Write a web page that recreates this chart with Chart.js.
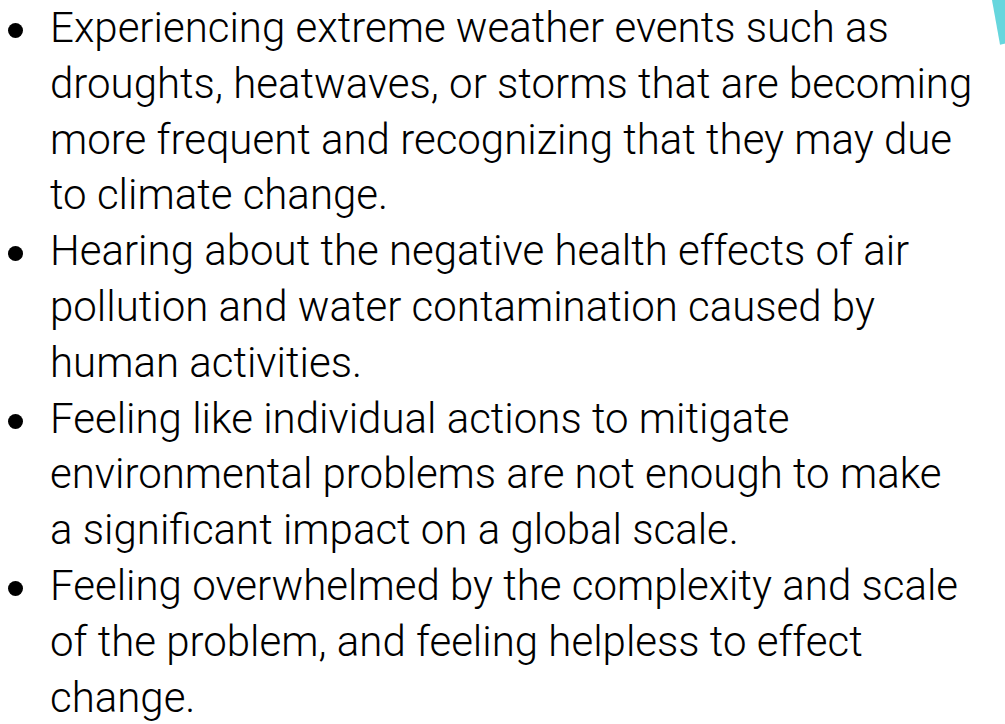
<!DOCTYPE html>
<html>
<head>
  <meta charset="utf-8">
  <style>
    html,
    body {
      margin: 0;
      height: 100%;
      overflow: hidden;
      background: #fff;
    }
    .list {
      position: absolute;
      left: 0;
      top: 0;
      margin: 0;
      padding: 0;
      list-style: none;
      font-family: Roboto, sans-serif;
      font-weight: 300;
      font-size: 42px;
      line-height: 55.8px;
      color: #000;
      white-space: nowrap;
    }
    .list li {
      position: relative;
      padding-left: 50px;
    }
    .list li::before {
      content: '';
      position: absolute;
      left: 8px;
      top: 23px;
      width: 15px;
      height: 15px;
      border-radius: 50%;
      background: #000;
    }
    .corner {
      position: absolute;
      left: 827px;
      top: -247px;
      width: 294px;
      height: 294px;
      pointer-events: none;
    }
  </style>
</head>
<body>
  <ul class="list" id="list"></ul>
  <div class="corner"><canvas id="chart1"></canvas></div>
</body>
<script src="https://cdn.jsdelivr.net/npm/chart.js@4/dist/chart.umd.min.js"></script>
<script>
  // bullet points, one array of lines per item
  const bullets = [
    [
      'Experiencing extreme weather events such as',
      'droughts, heatwaves, or storms that are becoming',
      'more frequent and recognizing that they may due',
      'to climate change.'
    ],
    [
      'Hearing about the negative health effects of air',
      'pollution and water contamination caused by',
      'human activities.'
    ],
    [
      'Feeling like individual actions to mitigate',
      'environmental problems are not enough to make',
      'a significant impact on a global scale.'
    ],
    [
      'Feeling overwhelmed by the complexity and scale',
      'of the problem, and feeling helpless to effect',
      'change.'
    ]
  ]

  // decorative wedge in the top right corner
  const wedgeLabels = ['accent', 'rest']
  const wedgeValues = [79.8, 280.2]

  const list = document.getElementById('list')
  bullets.forEach(lines => {
    const li = document.createElement('li')
    lines.forEach((line, i) => {
      if (i > 0) li.appendChild(document.createElement('br'))
      li.appendChild(document.createTextNode(line))
    })
    list.appendChild(li)
  })

  new Chart(document.getElementById('chart1'), {
    type: 'pie',
    data: {
      labels: wedgeLabels,
      datasets: [
        {
          data: wedgeValues,
          backgroundColor: ['#66d6dd', 'rgba(0,0,0,0)'],
          borderWidth: 0
        }
      ]
    },
    options: {
      responsive: true,
      maintainAspectRatio: false,
      animation: false,
      rotation: 90,
      layout: { padding: 0 },
      events: [],
      plugins: {
        legend: { display: false },
        tooltip: { enabled: false }
      }
    }
  })
</script>
</html>
